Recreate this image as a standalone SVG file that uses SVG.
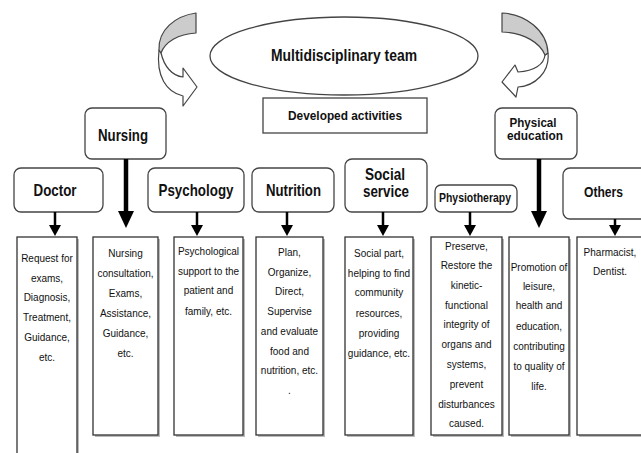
<svg xmlns="http://www.w3.org/2000/svg" width="641" height="453" viewBox="0 0 641 453">
<style>
.hb{fill:#fff;stroke:#444;stroke-width:1.3}
.tb{fill:#fff;stroke:#333;stroke-width:1.3}
.sh{fill:#bbb;stroke:none}
.h{font-family:"Liberation Sans",Arial,sans-serif;font-weight:bold;fill:#111;text-anchor:middle}
.t{font-family:"Liberation Sans",Arial,sans-serif;font-size:10px;fill:#111;text-anchor:middle}
.ln{stroke:#000;stroke-width:2.5}
.lnb{stroke:#000;stroke-width:4.5}
.ah{fill:#000}
.cv{fill:#fff;stroke:#444;stroke-width:1.2;stroke-linejoin:round}
.cg{fill:#ccc;stroke:#444;stroke-width:1.2;stroke-linejoin:round}
</style>
<rect width="641" height="453" fill="#fff"/>

<g id="curve-left">
<path class="cv" d="M161,53 C164,66 172,76 183,77 L183,68 L197,87 L183,106 L183,96 C166,92 156,76 159,50 Z"/>
<path class="cg" d="M196,13 C175,16 158,30 159,50 L161,53 C165,42 178,34 196,33 Z"/>
</g>
<g id="curve-right">
<path class="cv" d="M545,55 C544,64 535,71 518,72 L515,65 L502,82 L516,97 L518,87 C535,86 550,72 548,53 Z"/>
<path class="cg" d="M502,13 C525,14 547,30 548,53 L545,55 C540,43 525,33 502,32 Z"/>
</g>

<g id="team">
<ellipse cx="344" cy="56" rx="134" ry="39" fill="#fff" stroke="#444" stroke-width="1.3"/>
<text class="h" x="344" y="61" font-size="17" textLength="146" lengthAdjust="spacingAndGlyphs">Multidisciplinary team</text>
</g>
<g id="developed">
<rect x="263" y="98" width="164" height="35" fill="#fff" stroke="#444" stroke-width="1.3"/>
<text class="h" x="345" y="120" font-size="12" textLength="114" lengthAdjust="spacingAndGlyphs">Developed activities</text>
</g>

<g id="nursing">
<rect class="hb" x="85" y="108" width="81" height="51" rx="7"/>
<text class="h" x="123" y="141" font-size="16" textLength="50" lengthAdjust="spacingAndGlyphs">Nursing</text>
</g>
<g id="physical">
<rect class="hb" x="495" y="108" width="82" height="51" rx="7"/>
<text class="h" x="533" y="127" font-size="12" textLength="47" lengthAdjust="spacingAndGlyphs">Physical</text>
<text class="h" x="535" y="140" font-size="12" textLength="56" lengthAdjust="spacingAndGlyphs">education</text>
</g>

<g id="doctor">
<rect class="hb" x="14" y="168" width="89" height="44" rx="7"/>
<text class="h" x="55" y="196" font-size="17" textLength="43" lengthAdjust="spacingAndGlyphs">Doctor</text>
</g>
<g id="psychology">
<rect class="hb" x="148" y="168" width="96" height="44" rx="7"/>
<text class="h" x="196" y="196" font-size="17" textLength="75" lengthAdjust="spacingAndGlyphs">Psychology</text>
</g>
<g id="nutrition">
<rect class="hb" x="252" y="168" width="82" height="44" rx="7"/>
<text class="h" x="293.5" y="196" font-size="17" textLength="55" lengthAdjust="spacingAndGlyphs">Nutrition</text>
</g>
<g id="social">
<rect class="hb" x="345" y="159" width="82" height="53" rx="7"/>
<text class="h" x="385" y="180" font-size="16" textLength="40" lengthAdjust="spacingAndGlyphs">Social</text>
<text class="h" x="386" y="197" font-size="16" textLength="46" lengthAdjust="spacingAndGlyphs">service</text>
</g>
<g id="physiotherapy">
<rect class="hb" x="435" y="185" width="82" height="27" rx="6"/>
<text class="h" x="475" y="202" font-size="12" textLength="72" lengthAdjust="spacingAndGlyphs">Physiotherapy</text>
</g>
<g id="others">
<rect class="hb" x="563" y="168" width="90" height="51" rx="7"/>
<text class="h" x="603.5" y="197" font-size="15" textLength="39" lengthAdjust="spacingAndGlyphs">Others</text>
</g>

<g id="connectors">
<line class="ln" x1="55" y1="212" x2="55" y2="227"/>
<polygon class="ah" points="49,225 61,225 55,236"/>
<line class="lnb" x1="126" y1="159" x2="126" y2="214"/>
<polygon class="ah" points="118,211 134,211 126,228"/>
<line class="ln" x1="197" y1="212" x2="197" y2="227"/>
<polygon class="ah" points="191,225 203,225 197,236"/>
<line class="ln" x1="287" y1="212" x2="287" y2="227"/>
<polygon class="ah" points="281,225 293,225 287,236"/>
<line class="ln" x1="383" y1="212" x2="383" y2="227"/>
<polygon class="ah" points="377,225 389,225 383,236"/>
<line class="ln" x1="470" y1="212" x2="470" y2="227"/>
<polygon class="ah" points="464,225 476,225 470,236"/>
<line class="lnb" x1="539" y1="159" x2="539" y2="214"/>
<polygon class="ah" points="531,211 547,211 539,228"/>
<line class="ln" x1="615" y1="219" x2="615" y2="227"/>
<polygon class="ah" points="609,225 621,225 615,236"/>
</g>

<g id="doctor-activities">
<rect class="sh" x="19" y="239" width="60" height="220"/>
<rect class="tb" x="17" y="237" width="60" height="220" stroke-width="1.8"/>
<text class="t" x="47" y="262">Request for</text>
<text class="t" x="47" y="282">exams,</text>
<text class="t" x="47" y="301">Diagnosis,</text>
<text class="t" x="47" y="321">Treatment,</text>
<text class="t" x="47" y="341">Guidance,</text>
<text class="t" x="47" y="361">etc.</text>
</g>
<g id="nursing-activities">
<rect class="sh" x="95" y="239" width="65" height="198"/>
<rect class="tb" x="93" y="237" width="65" height="198"/>
<text class="t" x="125.5" y="257">Nursing</text>
<text class="t" x="125.5" y="277">consultation,</text>
<text class="t" x="125.5" y="297">Exams,</text>
<text class="t" x="125.5" y="317">Assistance,</text>
<text class="t" x="125.5" y="337">Guidance,</text>
<text class="t" x="125.5" y="357">etc.</text>
</g>
<g id="psychology-activities">
<rect class="sh" x="176" y="239" width="69" height="198"/>
<rect class="tb" x="174" y="237" width="69" height="198"/>
<text class="t" x="208.5" y="255">Psychological</text>
<text class="t" x="208.5" y="275">support to the</text>
<text class="t" x="208.5" y="294">patient and</text>
<text class="t" x="208.5" y="315">family, etc.</text>
</g>
<g id="nutrition-activities">
<rect class="sh" x="258" y="239" width="67" height="198"/>
<rect class="tb" x="256" y="237" width="67" height="198"/>
<text class="t" x="289.5" y="256">Plan,</text>
<text class="t" x="289.5" y="276">Organize,</text>
<text class="t" x="289.5" y="295">Direct,</text>
<text class="t" x="289.5" y="315">Supervise</text>
<text class="t" x="289.5" y="335">and evaluate</text>
<text class="t" x="289.5" y="355">food and</text>
<text class="t" x="289.5" y="374">nutrition, etc.</text>
<text class="t" x="289.5" y="394">.</text>
</g>
<g id="social-activities">
<rect class="sh" x="347" y="239" width="68" height="198"/>
<rect class="tb" x="345" y="237" width="68" height="198"/>
<text class="t" x="379" y="257">Social part,</text>
<text class="t" x="379" y="277">helping to find</text>
<text class="t" x="379" y="296">community</text>
<text class="t" x="379" y="317">resources,</text>
<text class="t" x="379" y="337">providing</text>
<text class="t" x="379" y="357">guidance, etc.</text>
</g>
<g id="physiotherapy-activities">
<rect class="sh" x="433" y="239" width="71" height="198"/>
<rect class="tb" x="431" y="237" width="71" height="198"/>
<text class="t" x="466.5" y="250">Preserve,</text>
<text class="t" x="466.5" y="269">Restore the</text>
<text class="t" x="466.5" y="289">kinetic-</text>
<text class="t" x="466.5" y="309">functional</text>
<text class="t" x="466.5" y="328">integrity of</text>
<text class="t" x="466.5" y="348">organs and</text>
<text class="t" x="466.5" y="368">systems,</text>
<text class="t" x="466.5" y="388">prevent</text>
<text class="t" x="466.5" y="408">disturbances</text>
<text class="t" x="466.5" y="427">caused.</text>
</g>
<g id="physical-activities">
<rect class="sh" x="511" y="239" width="60" height="198"/>
<rect class="tb" x="509" y="237" width="60" height="198"/>
<text class="t" x="539" y="271">Promotion of</text>
<text class="t" x="539" y="290">leisure,</text>
<text class="t" x="539" y="309">health and</text>
<text class="t" x="539" y="330">education,</text>
<text class="t" x="539" y="350">contributing</text>
<text class="t" x="539" y="370">to quality of</text>
<text class="t" x="539" y="390">life.</text>
</g>
<g id="others-activities">
<rect class="sh" x="579" y="239" width="80" height="198"/>
<rect class="tb" x="577" y="237" width="80" height="198"/>
<text class="t" x="610" y="256">Pharmacist,</text>
<text class="t" x="610" y="275">Dentist.</text>
</g>
</svg>
